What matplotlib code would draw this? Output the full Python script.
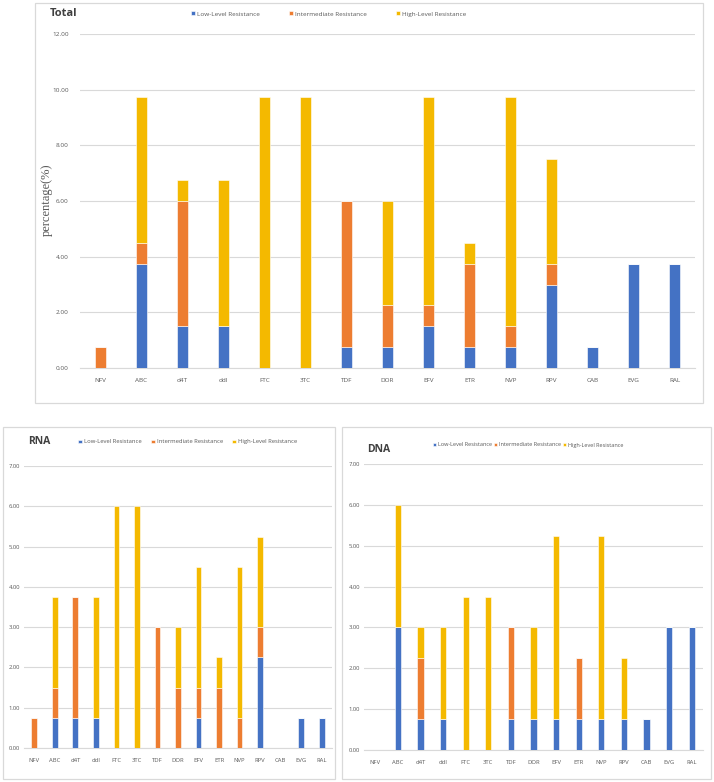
import numpy as np
import matplotlib.pyplot as plt
from matplotlib.patches import Rectangle

drugs = ["NFV", "ABC", "d4T", "ddI", "FTC", "3TC", "TDF", "DOR",
         "EFV", "ETR", "NVP", "RPV", "CAB", "EVG", "RAL"]
levels = ["Low-Level Resistance", "Intermediate Resistance", "High-Level Resistance"]

# percentages
total_low = [0, 3.75, 1.5, 1.5, 0, 0, 0.75, 0.75, 1.5, 0.75, 0.75, 3.0, 0.75, 3.75, 3.75]
total_mid = [0.75, 0.75, 4.5, 0, 0, 0, 5.25, 1.5, 0.75, 3.0, 0.75, 0.75, 0, 0, 0]
total_high = [0, 5.25, 0.75, 5.25, 9.75, 9.75, 0, 3.75, 7.5, 0.75, 8.25, 3.75, 0, 0, 0]

rna_low = [0, 0.75, 0.75, 0.75, 0, 0, 0, 0, 0.75, 0, 0, 2.25, 0, 0.75, 0.75]
rna_mid = [0.75, 0.75, 3.0, 0, 0, 0, 3.0, 1.5, 0.75, 1.5, 0.75, 0.75, 0, 0, 0]
rna_high = [0, 2.25, 0, 3.0, 6.0, 6.0, 0, 1.5, 3.0, 0.75, 3.75, 2.25, 0, 0, 0]

dna_low = [0, 3.0, 0.75, 0.75, 0, 0, 0.75, 0.75, 0.75, 0.75, 0.75, 0.75, 0.75, 3.0, 3.0]
dna_mid = [0, 0, 1.5, 0, 0, 0, 2.25, 0, 0, 1.5, 0, 0, 0, 0, 0]
dna_high = [0, 3.0, 0.75, 2.25, 3.75, 3.75, 0, 2.25, 4.5, 0, 4.5, 1.5, 0, 0, 0]

colors = ["#4472C4", "#ED7D31", "#F4B900"]
txt = "#595959"
grid = "#d9d9d9"

plt.rcParams['font.family'] = ['Open Sans', 'DejaVu Sans']

W, H = 714, 782
fig = plt.figure(figsize=(W / 100, H / 100), dpi=100)


def px(x0, y0, x1, y1):
    # pixel box (top-left origin) -> figure fraction rect
    return [x0 / W, 1 - y1 / H, (x1 - x0) / W, (y1 - y0) / H]


def frame(x0, y0, x1, y1):
    fig.patches.append(Rectangle((x0 / W, 1 - y1 / H), (x1 - x0) / W, (y1 - y0) / H,
                                 transform=fig.transFigure, fill=False,
                                 edgecolor=grid, linewidth=0.9))


def stacked(ax, low, mid, high, ymax, step, fs, ypad):
    x = np.arange(len(drugs))
    low, mid, high = np.array(low), np.array(mid), np.array(high)
    bars = []
    bottom = np.zeros(len(drugs))
    for vals, c in zip([low, mid, high], colors):
        b = ax.bar(x, vals, 0.28, bottom=bottom, color=c, edgecolor="white",
                   linewidth=0.4, zorder=3)
        bars.append(b)
        bottom = bottom + vals
    ax.set_xlim(-0.5, len(drugs) - 0.5)
    ax.set_ylim(0, ymax)
    ticks = np.arange(0, ymax + 0.01, step)
    ax.set_yticks(ticks)
    ax.set_yticklabels([f"{v:.2f}" for v in ticks])
    ax.set_xticks(x)
    ax.set_xticklabels(drugs)
    ax.tick_params(length=0, labelsize=fs, colors=txt, pad=7)
    ax.tick_params(axis="y", pad=ypad)
    ax.grid(axis="y", color=grid, linewidth=0.8, zorder=0)
    for s in ["top", "right", "left"]:
        ax.spines[s].set_visible(False)
    ax.spines["bottom"].set_color(grid)
    return bars


# Total panel
frame(35, 3, 703, 403)
ax1 = fig.add_axes(px(80, 34, 695, 368))
bars = stacked(ax1, total_low, total_mid, total_high, 12, 2, 4.6, 8)
fig.text(50 / W, 1 - 14 / H, "Total", fontsize=8, fontweight="bold", color="#404040", va="center")
fig.text(47 / W, 1 - 200 / H, "percentage(%)", family="Liberation Serif", rotation=90,
         fontsize=9, color=txt, va="center", ha="center")
fig.legend(bars, levels, loc="center left", bbox_to_anchor=(185 / W, 1 - 14 / H),
           ncol=3, frameon=False, fontsize=4.6, labelcolor=txt, handlelength=0.6,
           handleheight=0.6, handletextpad=0.4, columnspacing=4.5)

# RNA panel
frame(3, 427, 335, 779)
ax2 = fig.add_axes(px(24, 466, 332, 748))
bars = stacked(ax2, rna_low, rna_mid, rna_high, 7, 1, 4.2, 3)
fig.text(28 / W, 1 - 441 / H, "RNA", fontsize=7.5, fontweight="bold", color="#404040", va="center")
fig.legend(bars, levels, loc="center left", bbox_to_anchor=(73 / W, 1 - 442 / H),
           ncol=3, frameon=False, fontsize=4.2, labelcolor=txt, handlelength=0.6,
           handleheight=0.6, handletextpad=0.4, columnspacing=1.6)

# DNA panel
frame(342, 427, 711, 779)
ax3 = fig.add_axes(px(364, 464, 703, 750))
bars = stacked(ax3, dna_low, dna_mid, dna_high, 7, 1, 4.2, 3)
fig.text(367 / W, 1 - 449 / H, "DNA", fontsize=7.5, fontweight="bold", color="#404040", va="center")
fig.legend(bars, levels, loc="center left", bbox_to_anchor=(428 / W, 1 - 445 / H),
           ncol=3, frameon=False, fontsize=4.0, labelcolor=txt, handlelength=0.6,
           handleheight=0.6, handletextpad=0.3, columnspacing=0.3)

fig.savefig("out.png", dpi=100, facecolor="white")
plt.close(fig)
